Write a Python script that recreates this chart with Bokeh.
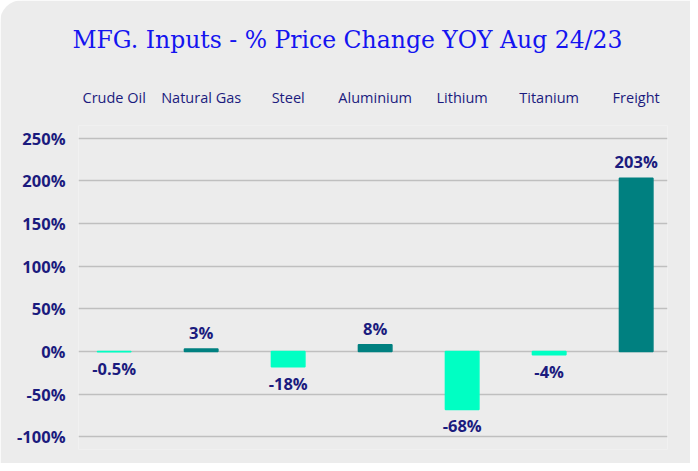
from bokeh.plotting import figure
from bokeh.models import ColumnDataSource, Range1d, FixedTicker, LinearAxis, LabelSet, Title
from bokeh.core.properties import value
from bokeh.embed import file_html
from bokeh.resources import INLINE

title_text = "MFG. Inputs - % Price Change YOY  Aug 24/23"
categories = ["Crude Oil", "Natural Gas", "Steel", "Aluminium", "Lithium", "Titanium", "Freight"]
values = [-0.5, 3, -18, 8, -68, -4, 203]
value_labels = ["-0.5%", "3%", "-18%", "8%", "-68%", "-4%", "203%"]
y_ticks = [-100, -50, 0, 50, 100, 150, 200, 250]
y_tick_labels = ["-100%", "-50%", "0%", "50%", "100%", "150%", "200%", "250%"]

POS = "#008080"
NEG = "#00FFC3"
NAVY = "#1B1B7E"
BG = "#ECECEC"

idx = list(range(len(categories)))
colors = [POS if v >= 0 else NEG for v in values]
src = ColumnDataSource(dict(x=idx, top=values, color=colors, label=value_labels))
pos_src = ColumnDataSource(dict(x=[i for i, v in zip(idx, values) if v >= 0],
                                y=[v for v in values if v >= 0],
                                label=[l for l, v in zip(value_labels, values) if v >= 0]))
neg_src = ColumnDataSource(dict(x=[i for i, v in zip(idx, values) if v < 0],
                                y=[v for v in values if v < 0],
                                label=[l for l, v in zip(value_labels, values) if v < 0]))

p = figure(width=690, height=463, output_backend="svg", toolbar_location=None,
           x_range=Range1d(-0.41, 6.36), y_range=Range1d(-115, 265),
           x_axis_location=None, min_border_left=78, min_border_right=23,
           min_border_bottom=14, min_border_top=124,
           background_fill_color=BG, border_fill_color=BG, outline_line_color=None,
           styles={"border-top-left-radius": "22px", "overflow": "hidden"})

p.vbar(x="x", top="top", bottom=0, width=0.385, fill_color="color", line_color="color",
       line_width=1.5, source=src)

# top category axis
ax = LinearAxis(ticker=FixedTicker(ticks=idx),
                major_label_overrides={i: c for i, c in zip(idx, categories)})
ax.axis_line_color = None
ax.major_tick_line_color = None
ax.minor_tick_line_color = None
ax.major_label_text_color = NAVY
ax.major_label_text_font = "Open Sans"
ax.major_label_text_font_size = "14.5px"
ax.major_label_standoff = 13
ax.axis_label = " "
ax.axis_label_text_font_size = "4px"
ax.axis_label_standoff = 0
p.add_layout(ax, "above")

# y axis
ya = p.yaxis[0]
ya.ticker = FixedTicker(ticks=y_ticks)
ya.major_label_overrides = {t: l for t, l in zip(y_ticks, y_tick_labels)}
ya.axis_line_color = None
ya.major_tick_line_color = None
ya.minor_tick_line_color = None
ya.major_label_text_color = NAVY
ya.major_label_text_font = "Open Sans"
ya.major_label_text_font_style = "bold"
ya.major_label_text_font_size = "16.5px"
ya.major_label_standoff = 7

p.xgrid.grid_line_color = None
p.ygrid.ticker = FixedTicker(ticks=y_ticks)
p.ygrid.grid_line_color = "#BFBFBF"
p.ygrid.grid_line_width = 1.5

for s, base, off in ((pos_src, "bottom", 5), (neg_src, "top", -5)):
    p.add_layout(LabelSet(x="x", y="y", text="label", source=s, text_align="center",
                          text_baseline=base, y_offset=off, text_color=NAVY,
                          text_font=value("Open Sans"), text_font_style="bold",
                          text_font_size="16.5px"))

t = Title(text=title_text, align="left", offset=-6,
          text_font="DejaVu Serif", text_font_size="23.5px", text_font_style="normal",
          text_color="#1414F0", standoff=46)
p.add_layout(t, "above")

open("out.html", "w").write(file_html(p, INLINE))
